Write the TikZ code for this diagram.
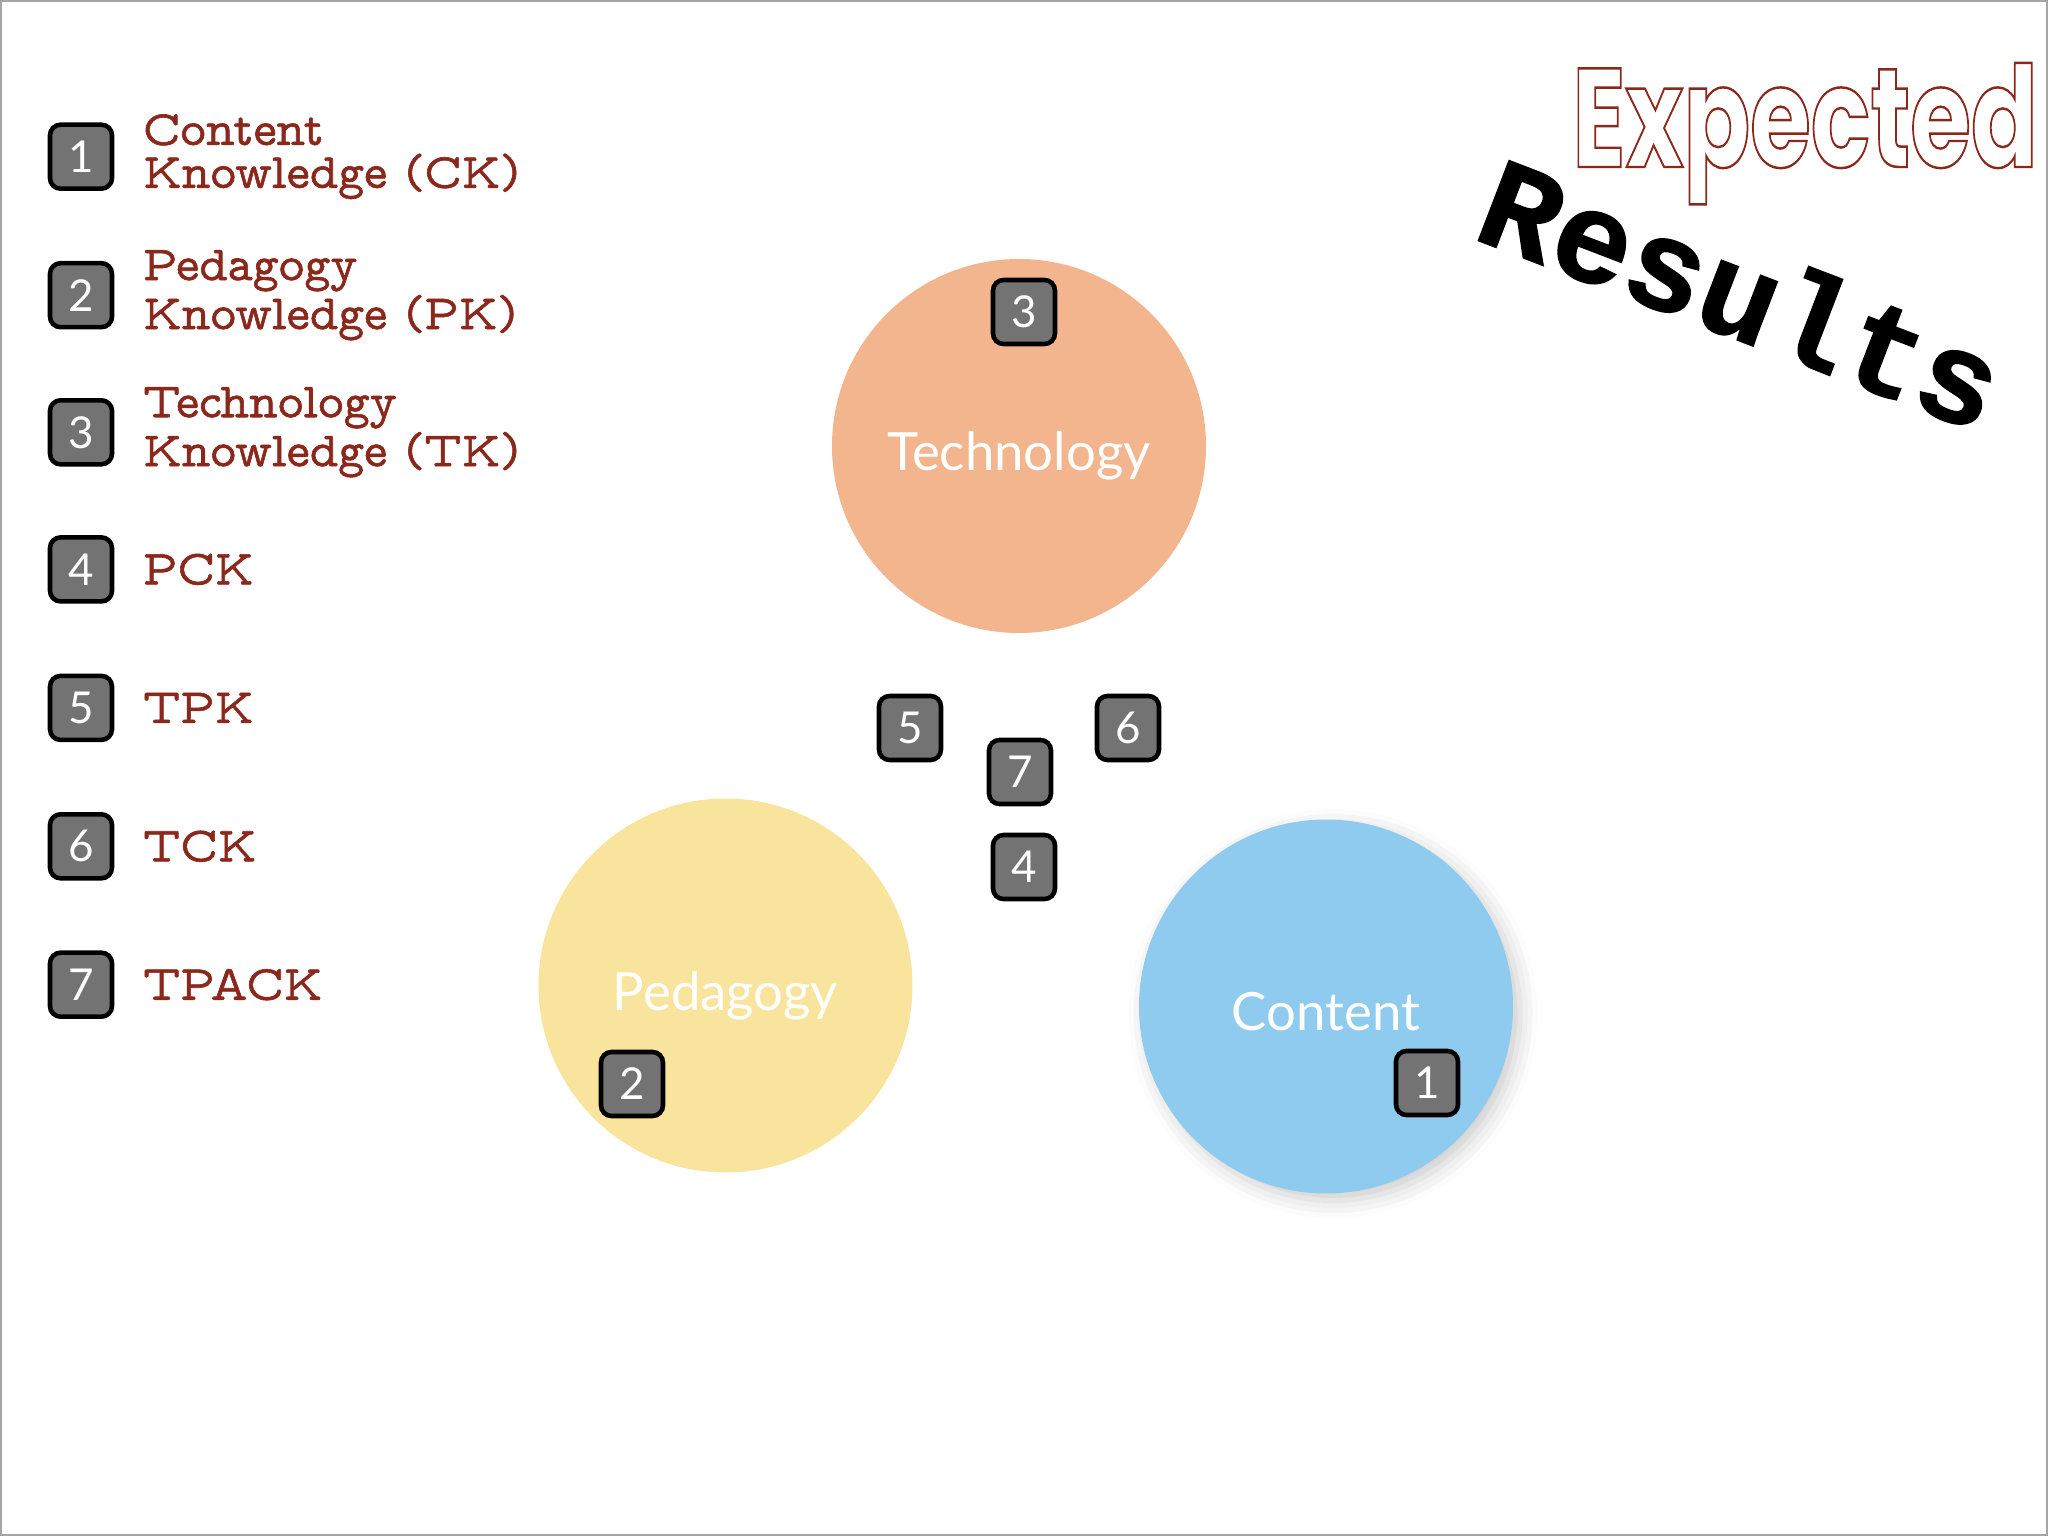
\documentclass[tikz,border=0pt]{standalone}
\usepackage{fontspec}
\setsansfont{Lato}
\newfontfamily\legfont{lmmonoprop10-regular}[Extension=.otf, FakeBold=1.2]
\newfontfamily\resfont{Liberation Mono}[BoldFeatures={FakeBold=1.2}]
\newfontfamily\handfont{Poppins}
\usetikzlibrary{positioning,shadows.blur}

\definecolor{techorange}{RGB}{243,181,142}
\definecolor{pedyellow}{RGB}{249,228,158}
\definecolor{contblue}{RGB}{143,203,238}
\definecolor{legendred}{RGB}{139,40,28}
\definecolor{badgegray}{RGB}{115,115,115}

\begin{document}
\begin{tikzpicture}[
    badge/.style={rectangle, rounded corners=3pt, draw=black, line width=1.3pt, fill=badgegray, text=white, minimum width=0.62cm, minimum height=0.64cm, inner sep=0pt, font=\sffamily\fontsize{12.5}{14}\selectfont},
    area/.style={circle, minimum size=3.74cm, inner sep=0pt},
    arealabel/.style={inner sep=0pt, text=white, font=\sffamily\fontsize{15}{18}\selectfont},
    legend/.style={anchor=west, inner sep=0pt, align=left, text=legendred, font=\legfont\fontsize{14}{12.2}\selectfont}
]
    \useasboundingbox (0,0) rectangle (20.48,-15.36);
    \draw[gray!70, line width=0.6pt] (0.01,-0.01) rectangle (20.47,-15.35);

    % the three areas
    \node[area, fill=techorange] (T) at (10.19,-4.46) {};
    \node[area, fill=pedyellow] (P) at (7.255,-9.855) {};
    \node[area, fill=contblue, blur shadow={shadow xshift=2pt, shadow yshift=-2pt, shadow blur radius=5pt, shadow opacity=20}] (C) at (13.26,-10.065) {};
    \node[arealabel] (Tl) at ([yshift=-0.1cm]T.center) {Technology};
    \node[arealabel] (Pl) at ([yshift=-0.1cm]P.center) {Pedagogy};
    \node[arealabel] (Cl) at ([yshift=-0.05cm]C.center) {Content};

    % numbers on the diagram
    \node[badge] (n3) at (10.24,-3.12) {3};
    \node[badge] (n2) at (6.32,-10.84) {2};
    \node[badge] (n1) at (14.27,-10.83) {1};
    \node[badge] (n5) at (9.10,-7.28) {5};
    \node[badge] (n6) at (11.28,-7.28) {6};
    \node[badge] (n7) at (10.20,-7.72) {7};
    \node[badge] (n4) at (10.24,-8.67) {4};

    % legend
    \foreach \i/\y/\txt in {1/1.567/{Content\\Knowledge (CK)}, 2/2.952/{Pedagogy\\Knowledge (PK)}, 3/4.323/{Technology\\Knowledge (TK)}, 4/5.694/PCK, 5/7.079/TPK, 6/8.463/TCK, 7/9.847/TPACK}
    {
        \node[badge] (b\i) at (0.81,-\y) {\i};
        \node[legend, right=0.28cm of b\i] (l\i) {\txt};
    }

    % title
    \node[font=\handfont\bfseries\fontsize{40}{40}\selectfont, text=legendred, anchor=base] (exp) at (18.05,-1.67)
        {\special{pdf:literal direct 1 Tr 0.7 w}\scalebox{0.7}[1]{Expected}\special{pdf:literal direct 0 Tr}};
    \node[font=\resfont\bfseries\fontsize{37}{38}\selectfont, rotate=-21] (res) at (17.42,-2.92) {Results};
\end{tikzpicture}
\end{document}
